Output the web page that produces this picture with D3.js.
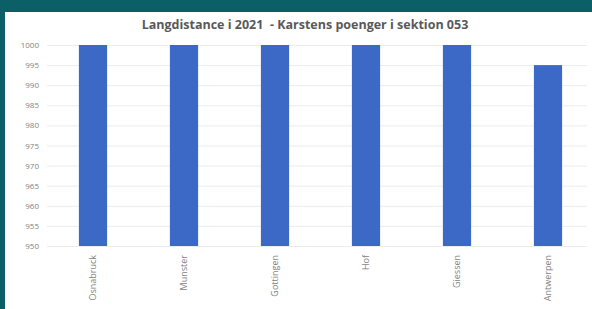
<!DOCTYPE html>
<html>
<head>
<meta charset="utf-8">
<script src="https://cdn.jsdelivr.net/npm/d3@7"></script>
<style>
  html, body { margin: 0; padding: 0; background: #0b5f66; }
  #chart { width: 592px; height: 309px; }
</style>
</head>
<body>
<div id="chart"></div>
<script>
const cities = ["Osnabruck", "Munster", "Gottingen", "Hof", "Giessen", "Antwerpen"];
const points = [1000, 1000, 1000, 1000, 1000, 995];
const yTicks = [950, 955, 960, 965, 970, 975, 980, 985, 990, 995, 1000];

function drawChart() {
  const width = 592;
  const height = 309;

  const svg = d3.select("#chart")
    .append("svg")
    .attr("width", width)
    .attr("height", height);

  // white chart panel on teal background
  svg.append("rect")
    .attr("x", 5).attr("y", 12)
    .attr("width", width - 5).attr("height", height - 12)
    .attr("fill", "#ffffff");

  svg.append("text")
    .attr("x", 305).attr("y", 29)
    .attr("text-anchor", "middle")
    .attr("font-family", "Open Sans, sans-serif")
    .attr("font-size", 12.5)
    .attr("font-weight", "bold")
    .attr("fill", "#595959")
    .attr("xml:space", "preserve")
    .text("Langdistance i 2021  - Karstens poenger i sektion 053");

  const xScale = d3.scaleBand()
    .domain(cities)
    .range([47.5, 593.5])
    .paddingInner(0.69)
    .paddingOuter(0.345);

  const yScale = d3.scaleLinear()
    .domain([950, 1000])
    .range([246, 45]);

  // gridlines
  svg.append("g")
    .attr("transform", "translate(47,0)")
    .call(d3.axisLeft(yScale).tickValues(yTicks).tickSize(-540).tickFormat(""))
    .call(g => g.select(".domain").remove())
    .call(g => g.selectAll("line").attr("stroke", "#ececec"));

  svg.append("g")
    .selectAll("rect")
    .data(cities)
    .join("rect")
    .attr("x", (d) => xScale(d))
    .attr("width", xScale.bandwidth())
    .attr("y", (d, i) => yScale(points[i]))
    .attr("height", (d, i) => yScale(950) - yScale(points[i]))
    .attr("fill", "#3d69c6");

  // y labels
  svg.append("g")
    .attr("transform", "translate(39,0)")
    .call(d3.axisLeft(yScale).tickValues(yTicks).tickSize(0).tickPadding(0).tickFormat(d3.format("d")))
    .call(g => g.select(".domain").remove())
    .call(g => g.selectAll("text")
      .attr("font-family", "Open Sans, sans-serif")
      .attr("font-size", 8)
      .attr("fill", "#7f7f7f"));

  // x labels, rotated
  svg.append("g")
    .attr("transform", "translate(0,252)")
    .call(d3.axisBottom(xScale).tickSize(0).tickPadding(0))
    .call(g => g.select(".domain").remove())
    .call(g => g.selectAll("text")
      .attr("transform", "rotate(-90)")
      .attr("text-anchor", "end")
      .attr("dy", "0.32em")
      .attr("x", -3)
      .attr("y", 0)
      .attr("font-family", "Open Sans, sans-serif")
      .attr("font-size", 9)
      .attr("fill", "#7f7f7f"));
}

drawChart();
</script>
</body>
</html>
